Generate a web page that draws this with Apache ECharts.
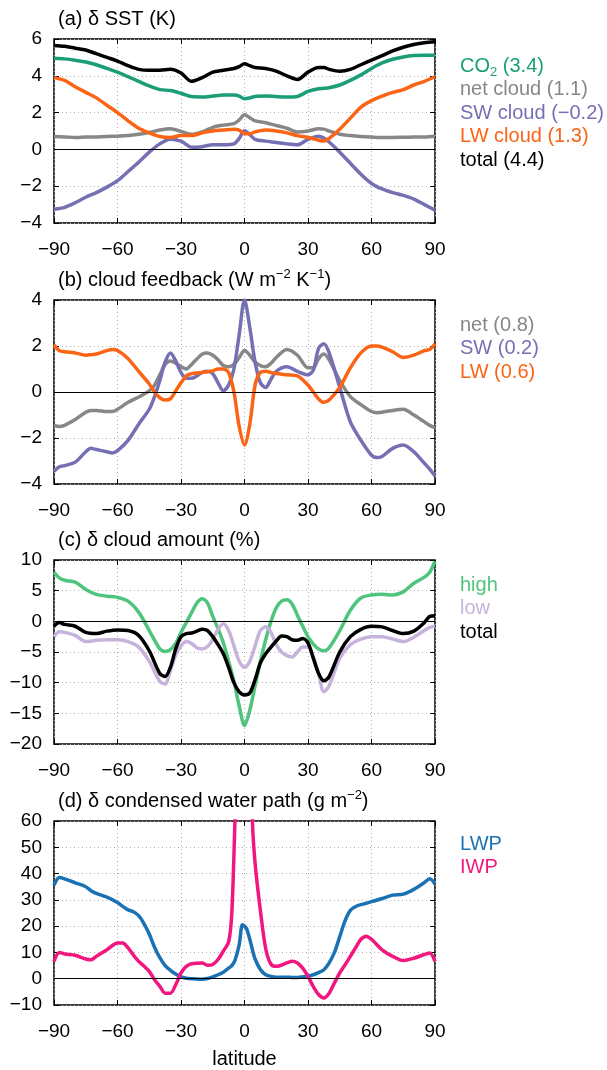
<!DOCTYPE html>
<html><head><meta charset="utf-8">
<script src="https://cdn.jsdelivr.net/npm/echarts@6/dist/echarts.min.js"></script>
<style>html,body{margin:0;padding:0;background:#fff}#c{width:607px;height:1070px}</style>
</head><body><div id="c"></div>
<script>
// ---------- data ----------
const LAT_A = [-90,-85,-80,-75,-70,-65,-60,-55,-50,-45,-40,-35,-30,-25,-20,-15,-10,-5,-2.5,0,2.5,5,10,15,20,25,30,35,37.5,40,45,50,55,60,65,70,75,80,85,90];
const SST_CO2   = [4.95,4.92,4.85,4.75,4.6,4.4,4.2,3.95,3.7,3.45,3.25,3.2,3.05,2.87,2.85,2.9,2.95,2.95,2.9,2.75,2.8,2.88,2.9,2.87,2.85,2.88,3.15,3.3,3.32,3.35,3.5,3.75,4.05,4.4,4.7,4.9,5.02,5.1,5.12,5.12];
const SST_NET   = [0.7,0.68,0.65,0.67,0.68,0.7,0.72,0.75,0.82,0.92,1.05,1.12,0.98,0.82,0.95,1.2,1.32,1.4,1.6,1.88,1.72,1.55,1.45,1.3,1.15,0.95,1.0,1.12,1.1,1.0,0.82,0.75,0.7,0.67,0.65,0.65,0.66,0.67,0.68,0.72];
const SST_SW    = [-3.25,-3.15,-2.9,-2.6,-2.35,-2.05,-1.7,-1.2,-0.7,-0.15,0.3,0.55,0.45,0.12,0.15,0.25,0.25,0.3,0.6,1.02,0.8,0.55,0.45,0.38,0.3,0.25,0.55,0.72,0.62,0.4,-0.15,-0.75,-1.35,-1.85,-2.15,-2.35,-2.5,-2.7,-3.0,-3.3];
const SST_LW    = [3.9,3.75,3.4,3.1,2.8,2.4,2.0,1.55,1.15,0.9,0.7,0.65,0.75,0.75,0.9,1.0,1.05,1.1,1.05,0.85,0.85,0.95,1.05,1.0,0.9,0.75,0.65,0.5,0.45,0.6,1.1,1.7,2.3,2.65,2.9,3.1,3.25,3.5,3.7,3.95];
const SST_TOTAL = [5.65,5.6,5.5,5.4,5.2,5.0,4.8,4.55,4.35,4.3,4.3,4.35,4.15,3.7,3.9,4.2,4.3,4.4,4.5,4.65,4.55,4.45,4.4,4.25,4.0,3.8,4.2,4.45,4.45,4.35,4.25,4.35,4.6,4.85,5.1,5.35,5.55,5.7,5.8,5.85];

const LAT_B = [-90,-87.5,-85,-80,-75,-72.5,-70,-65,-62.5,-60,-55,-50,-45,-42.5,-40,-37.5,-35,-32.5,-30,-27.5,-25,-20,-17.5,-15,-12.5,-10,-7.5,-5,-2.5,0,2.5,5,7.5,10,12.5,15,20,25,30,32.5,35,37.5,40,45,50,55,60,62.5,65,70,75,80,85,87.5,90];
const FB_NET = [-1.45,-1.5,-1.45,-1.2,-0.88,-0.8,-0.8,-0.85,-0.85,-0.75,-0.45,-0.22,0.05,0.3,0.75,1.2,1.35,1.25,1.1,1.0,1.2,1.65,1.7,1.6,1.4,1.15,1.1,1.2,1.5,1.8,1.6,1.3,1.15,1.1,1.25,1.5,1.85,1.6,1.05,1.05,1.45,1.65,1.4,0.5,-0.2,-0.55,-0.85,-0.9,-0.88,-0.8,-0.75,-1.0,-1.3,-1.45,-1.55];
const FB_SW  = [-3.45,-3.25,-3.2,-3.05,-2.6,-2.45,-2.5,-2.6,-2.65,-2.55,-2.1,-1.4,-0.75,-0.2,0.5,1.3,1.7,1.35,0.85,0.6,0.6,0.85,0.9,0.8,0.4,0.05,0.3,1.0,2.5,4.0,2.8,1.3,0.4,0.2,0.55,0.9,1.1,0.9,0.75,0.95,1.9,2.1,1.7,0.2,-1.3,-2.1,-2.75,-2.85,-2.8,-2.45,-2.3,-2.6,-3.1,-3.35,-3.65];
const FB_LW  = [2.05,1.8,1.75,1.7,1.6,1.62,1.65,1.8,1.85,1.8,1.45,0.9,0.35,0.0,-0.25,-0.35,-0.3,0.05,0.4,0.7,0.8,0.85,0.88,0.92,1.0,1.0,0.85,0.0,-1.5,-2.3,-1.4,0.3,0.85,0.9,0.85,0.8,0.75,0.7,0.3,0.0,-0.3,-0.45,-0.35,0.2,1.05,1.7,2.0,2.0,1.95,1.75,1.5,1.6,1.8,1.85,2.1];

const LAT_C = [-90,-87.5,-85,-80,-75,-70,-65,-60,-55,-50,-45,-40,-37.5,-35,-32.5,-30,-27.5,-25,-22.5,-20,-17.5,-15,-12.5,-10,-7.5,-5,-2.5,0,2.5,5,7.5,10,12.5,15,17.5,20,22.5,25,27.5,30,32.5,35,37.5,40,45,50,55,60,65,70,75,80,85,87.5,90];
const CA_HIGH  = [8.0,7.1,6.7,6.4,5.2,4.4,4.1,3.9,3.3,1.5,-1.5,-4.5,-4.9,-4.6,-3.6,-1.8,-0.2,1.4,3.0,3.7,3.0,0.8,-1.2,-3.5,-6.5,-9.8,-13.8,-17.0,-14.5,-10.5,-6.5,-3.0,0.0,2.2,3.3,3.5,2.8,1.0,-0.8,-2.5,-3.7,-4.5,-4.8,-4.3,-1.5,1.8,3.8,4.3,4.4,4.3,4.8,6.2,7.2,8.0,9.8];
const CA_LOW   = [-2.5,-1.7,-1.8,-2.3,-3.3,-3.1,-3.0,-3.0,-3.3,-4.2,-6.5,-9.8,-10.2,-8.0,-5.5,-4.0,-3.3,-3.6,-4.3,-4.5,-4.1,-3.0,-1.3,-0.4,-1.5,-4.0,-6.5,-7.5,-6.5,-4.0,-1.5,-0.9,-1.8,-3.8,-5.0,-5.6,-5.8,-5.0,-4.2,-4.2,-5.8,-8.5,-11.5,-10.5,-6.0,-3.8,-2.9,-2.5,-2.5,-2.9,-3.3,-2.6,-1.5,-1.0,-0.8];
const CA_TOTAL = [-0.8,-0.2,-0.5,-0.8,-1.8,-2.0,-1.6,-1.4,-1.5,-2.3,-4.8,-8.5,-9.0,-7.5,-4.5,-2.5,-2.0,-1.9,-1.6,-1.3,-1.5,-2.5,-3.8,-5.3,-7.5,-10.0,-11.5,-12.0,-11.7,-9.5,-6.8,-5.3,-4.2,-3.2,-2.4,-2.5,-3.0,-3.1,-2.8,-3.5,-6.0,-8.5,-9.7,-9.0,-5.0,-2.5,-1.3,-0.8,-0.9,-1.5,-2.0,-1.6,-0.2,0.8,0.9];

const LAT_D = [-90,-87.5,-85,-80,-75,-72.5,-70,-65,-60,-57.5,-55,-52.5,-50,-47.5,-45,-42.5,-40,-37.5,-35,-32.5,-30,-27.5,-25,-20,-17.5,-15,-12.5,-10,-7.5,-6,-4.5,-2.5,-1,0,1,2.5,3.75,5,7.5,10,12.5,15,20,22.5,25,27.5,30,32.5,35,37.5,40,42.5,45,47.5,50,52.5,55,57.5,60,65,70,75,80,85,87.5,90];
const WP_LWP = [35.5,38.5,38,36.5,35,33.5,32.5,31,29,27.5,26.2,25.5,24,21,17,12,8,5,3.2,1.8,0.7,0.2,0,-0.2,0.1,0.7,1.5,2.5,4,5,7,13,20.5,20,19,15,11,7.5,3.5,1.5,0.9,0.6,0.6,0.5,0.5,0.7,1.0,1.5,2.3,3.4,6,10,16,22,26,27.5,28.2,28.7,29.3,30.5,31.8,32.2,34,36.6,38,36];
const WP_IWP = [6.6,10,9.4,8.9,7.5,7.2,8.5,11,13.6,13.6,11.7,9,6.6,4.8,2.8,-0.4,-2.9,-5.5,-5.5,-2.3,2.2,4.7,5.7,6,5.1,5.4,7.3,10.5,14,25,60,110,135,140,135,110,60,44,26,11.5,5.5,4.7,6,6.6,6,4,0.9,-3,-6,-7.3,-5.5,-1.6,2.2,5.3,8.5,11.8,15,16.2,15,11,8.5,6.9,7.8,9.2,9.8,6.6];

const X_TICKS = [-90, 90, 30];           // min, max, interval
const Y_A = [-4, 6, 2], Y_B = [-4, 4, 2], Y_C = [-20, 10, 5], Y_D = [-10, 60, 10];

// ---------- layout / style ----------
const FONT = 'Liberation Sans';
const GRID_LEFT = 54, GRID_RIGHT = 172, GRID_H = 184;
const M = '\u2212';
const panels = [
  { top: 39, y: Y_A, lat: LAT_A,
    title: '{n|(a) \u03b4 SST (K)}',
    series: [
      { name: 'CO2', data: SST_CO2, color: '#1b9e77', legend: '{n|CO}{sub|2}{n| (3.4)}' },
      { name: 'net cloud', data: SST_NET, color: '#878787', legend: '{n|net cloud (1.1)}' },
      { name: 'SW cloud', data: SST_SW, color: '#7570b3', legend: '{n|SW cloud (' + M + '0.2)}' },
      { name: 'LW cloud', data: SST_LW, color: '#fa6414', legend: '{n|LW cloud (1.3)}' },
      { name: 'total', data: SST_TOTAL, color: '#000000', legend: '{n|total (4.4)}' }
    ], legendTop: 65 },
  { top: 300, y: Y_B, lat: LAT_B,
    title: '{n|(b) cloud feedback (W m}{sup|' + M + '2}{n| K}{sup|' + M + '1}{n|)}',
    series: [
      { name: 'net', data: FB_NET, color: '#878787', legend: '{n|net (0.8)}' },
      { name: 'SW', data: FB_SW, color: '#7570b3', legend: '{n|SW (0.2)}' },
      { name: 'LW', data: FB_LW, color: '#fa6414', legend: '{n|LW (0.6)}' }
    ], legendTop: 324 },
  { top: 560, y: Y_C, lat: LAT_C,
    title: '{n|(c) \u03b4 cloud amount (%)}',
    series: [
      { name: 'high', data: CA_HIGH, color: '#4fc47c', legend: '{n|high}' },
      { name: 'low', data: CA_LOW, color: '#c6b3dc', legend: '{n|low}' },
      { name: 'total', data: CA_TOTAL, color: '#000000', legend: '{n|total}' }
    ], legendTop: 584 },
  { top: 821, y: Y_D, lat: LAT_D,
    title: '{n|(d) \u03b4 condensed water path (g m}{sup|' + M + '2}{n|)}',
    series: [
      { name: 'LWP', data: WP_LWP, color: '#1a72b5', legend: '{n|LWP}' },
      { name: 'IWP', data: WP_IWP, color: '#f2177f', legend: '{n|IWP}' }
    ], legendTop: 843 }
];

const fmt = v => (v < 0 ? M + Math.abs(v) : String(v));
const tick = { show: true, inside: true, length: 5, lineStyle: { color: '#000', width: 1 } };
const noLine = { show: false, onZero: false };

function richFor(color) {
  return {
    n: { fontSize: 20, fontFamily: FONT, fill: color, lineHeight: 26, verticalAlign: 'bottom', padding: [0, 0, 3, 0] },
    sub: { fontSize: 13, fontFamily: FONT, fill: color, lineHeight: 26, verticalAlign: 'bottom', padding: [0, 0, 0, 0] },
    sup: { fontSize: 13, fontFamily: FONT, fill: color, lineHeight: 26, verticalAlign: 'bottom', padding: [0, 0, 12, 0] }
  };
}

const grid = [], xAxis = [], yAxis = [], series = [], graphic = [];
panels.forEach((p, i) => {
  grid.push({ left: GRID_LEFT, right: GRID_RIGHT, top: p.top, height: GRID_H, show: true,
    borderColor: '#000', borderWidth: 1.5, backgroundColor: 'transparent' });
  xAxis.push({ type: 'value', gridIndex: i, min: X_TICKS[0], max: X_TICKS[1], interval: X_TICKS[2],
    axisLine: noLine, axisTick: tick,
    axisLabel: { formatter: fmt, fontSize: 19, fontFamily: FONT, color: '#000', margin: 17 },
    splitLine: { show: true, lineStyle: { type: [1, 3], color: '#b0b0b0', width: 1 } } });
  xAxis.push({ type: 'value', gridIndex: i, position: 'top', min: X_TICKS[0], max: X_TICKS[1], interval: X_TICKS[2],
    axisLine: noLine, axisTick: tick, axisLabel: { show: false }, splitLine: { show: false } });
  yAxis.push({ type: 'value', gridIndex: i, position: 'left', min: p.y[0], max: p.y[1], interval: p.y[2],
    axisLine: noLine, axisTick: tick,
    axisLabel: { formatter: fmt, fontSize: 19, fontFamily: FONT, color: '#000', margin: 12 },
    splitLine: { show: true, lineStyle: { type: [1, 3], color: '#b0b0b0', width: 1 } } });
  yAxis.push({ type: 'value', gridIndex: i, position: 'right', min: p.y[0], max: p.y[1], interval: p.y[2],
    axisLine: noLine, axisTick: tick, axisLabel: { show: false }, splitLine: { show: false } });

  p.series.forEach((s, k) => {
    const ser = {
      type: 'line', name: s.name, xAxisIndex: 2 * i, yAxisIndex: 2 * i,
      data: p.lat.map((x, j) => [x, s.data[j]]),
      showSymbol: false, symbol: 'none', smooth: 0.3, clip: true,
      lineStyle: { color: s.color, width: 3.5 }, itemStyle: { color: s.color }, z: 3
    };
    if (k === 0) {
      ser.markLine = { silent: true, symbol: 'none', label: { show: false }, animation: false,
        lineStyle: { color: '#000', width: 1, type: 'solid' }, data: [{ yAxis: 0 }] };
    }
    series.push(ser);
    graphic.push({ type: 'text', x: 460, y: p.legendTop + k * 23.6 + 1,
      style: { text: s.legend, fill: s.color, fontSize: 20, fontFamily: FONT, verticalAlign: 'middle',
        rich: richFor(s.color) } });
  });

  graphic.push({ type: 'text', x: 58, y: p.top - 20,
    style: { text: p.title, fill: '#000', fontSize: 20, fontFamily: FONT, verticalAlign: 'middle',
      rich: richFor('#000') } });
});
graphic.push({ type: 'text', x: GRID_LEFT + (607 - GRID_LEFT - GRID_RIGHT) / 2, y: 1059,
  style: { text: 'latitude', fill: '#000', fontSize: 20, fontFamily: FONT, align: 'center', verticalAlign: 'middle' } });

const chart = echarts.init(document.getElementById('c'), null, { renderer: 'canvas' });
chart.setOption({ animation: false, backgroundColor: '#fff',
  textStyle: { fontFamily: FONT }, grid, xAxis, yAxis, series, graphic });
</script></body></html>
